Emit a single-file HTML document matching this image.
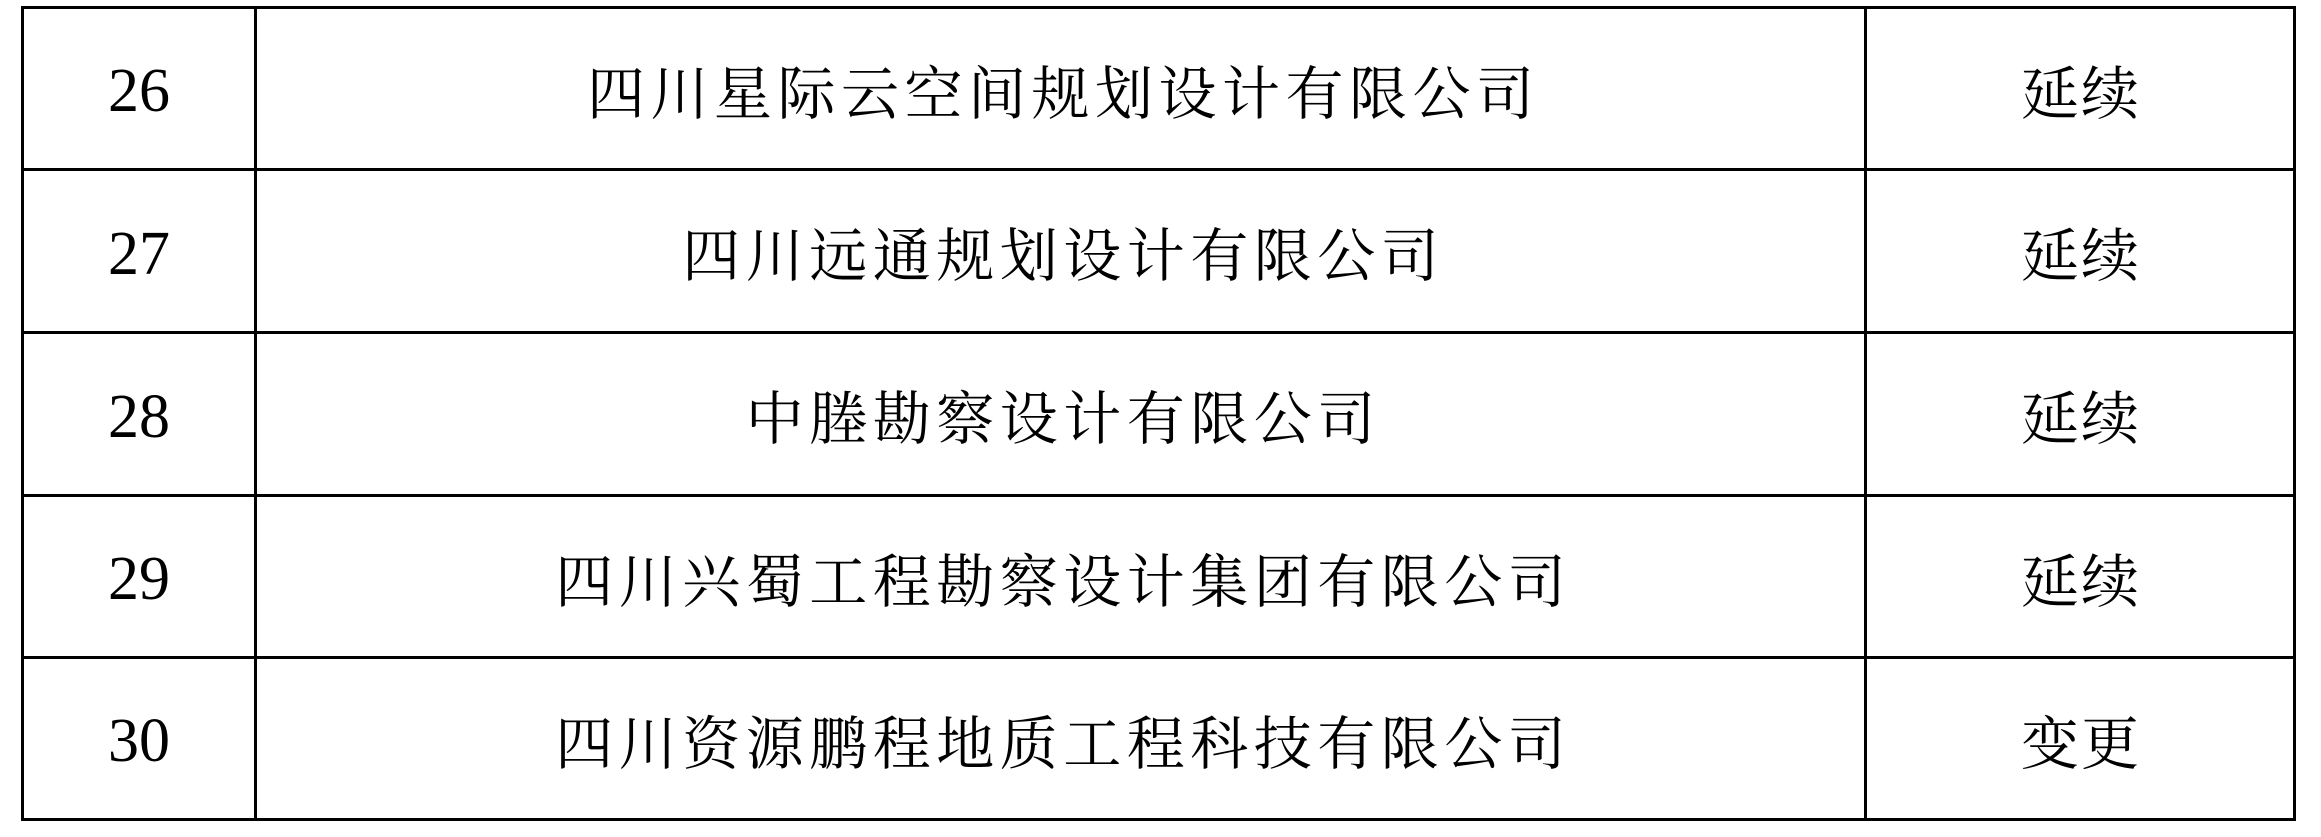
<!DOCTYPE html>
<html><head><meta charset="utf-8"><style>
html,body{margin:0;padding:0;background:#fff;width:2321px;height:837px;overflow:hidden}
.l{position:absolute;background:#000}
.t{position:absolute;display:flex;align-items:center;justify-content:center;color:#000;white-space:nowrap;box-sizing:border-box}
.n{font-family:"Liberation Serif",serif;font-size:62px;padding-top:6px}
.c{font-family:"Liberation Serif","Noto Serif CJK SC",serif;font-size:58px;letter-spacing:5.5px;padding-left:5.5px}
.s{font-family:"Liberation Serif","Noto Serif CJK SC",serif;font-size:58px;letter-spacing:2px;padding-left:2px}
</style></head><body>
<div class="l" style="left:21px;top:6px;width:2275px;height:3px"></div>
<div class="l" style="left:21px;top:168px;width:2275px;height:3px"></div>
<div class="l" style="left:21px;top:331px;width:2275px;height:3px"></div>
<div class="l" style="left:21px;top:494px;width:2275px;height:3px"></div>
<div class="l" style="left:21px;top:656px;width:2275px;height:3px"></div>
<div class="l" style="left:21px;top:818px;width:2275px;height:3px"></div>
<div class="l" style="left:21px;top:6px;width:3px;height:815px"></div>
<div class="l" style="left:254px;top:6px;width:3px;height:815px"></div>
<div class="l" style="left:1864px;top:6px;width:3px;height:815px"></div>
<div class="l" style="left:2293px;top:6px;width:3px;height:815px"></div>

<div class="t n" style="left:24px;top:9px;width:230px;height:159px">26</div>
<div class="t c" style="left:257px;top:9px;width:1607px;height:159px">四川星际云空间规划设计有限公司</div>
<div class="t s" style="left:1867px;top:9px;width:426px;height:159px">延续</div>

<div class="t n" style="left:24px;top:171px;width:230px;height:160px">27</div>
<div class="t c" style="left:257px;top:171px;width:1607px;height:160px">四川远通规划设计有限公司</div>
<div class="t s" style="left:1867px;top:171px;width:426px;height:160px">延续</div>

<div class="t n" style="left:24px;top:334px;width:230px;height:160px">28</div>
<div class="t c" style="left:257px;top:334px;width:1607px;height:160px">中塍勘察设计有限公司</div>
<div class="t s" style="left:1867px;top:334px;width:426px;height:160px">延续</div>

<div class="t n" style="left:24px;top:497px;width:230px;height:159px">29</div>
<div class="t c" style="left:257px;top:497px;width:1607px;height:159px">四川兴蜀工程勘察设计集团有限公司</div>
<div class="t s" style="left:1867px;top:497px;width:426px;height:159px">延续</div>

<div class="t n" style="left:24px;top:659px;width:230px;height:159px">30</div>
<div class="t c" style="left:257px;top:659px;width:1607px;height:159px">四川资源鹏程地质工程科技有限公司</div>
<div class="t s" style="left:1867px;top:659px;width:426px;height:159px">变更</div>
</body></html>
